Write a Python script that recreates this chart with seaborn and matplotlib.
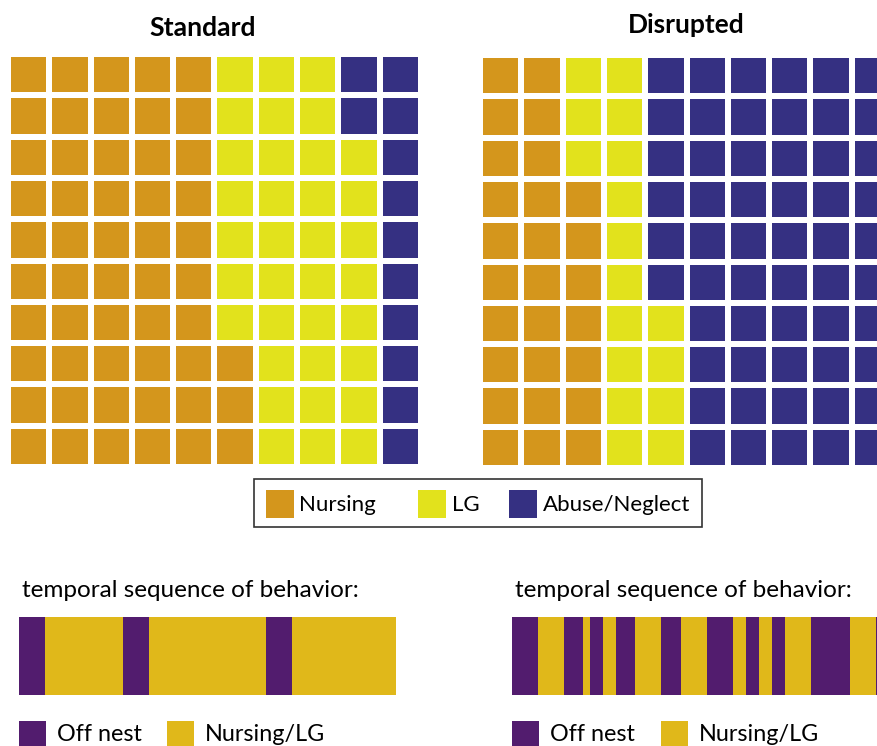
import numpy as np
import matplotlib
matplotlib.use("Agg")
import matplotlib.pyplot as plt
from matplotlib.colors import ListedColormap
from matplotlib.patches import Rectangle
import seaborn as sns

# ---------------- data ----------------
categories = ["Nursing", "LG", "Abuse/Neglect"]
standard_counts = [53, 35, 12]
disrupted_counts = [27, 17, 56]
grid_rows = 10
grid_cols = 10
panel_titles = ["Standard", "Disrupted"]

seq_labels = ["Off nest", "Nursing/LG"]
seq_title = "temporal sequence of behavior:"
standard_seq_states = [0, 1, 0, 1, 0, 1]
standard_seq_durations = [4, 12, 4, 18, 4, 16]
disrupted_seq_states = [0, 1, 0, 1, 0, 1, 0, 1, 0, 1, 0, 1, 0, 1, 0, 1, 0, 1, 0]
disrupted_seq_durations = [4, 4, 3, 1, 2, 2, 3, 4, 3, 4, 4, 2, 2, 2, 2, 4, 6, 4, 2]

# ---------------- style ----------------
cat_colors = ["#D4961C", "#E2E21C", "#353082"]
seq_colors = ["#521C6E", "#E0B81A"]

sns.set_theme(style="white")
plt.rcParams["font.family"] = ["Lato", "DejaVu Sans"]

W, H = 878, 746
fig = plt.figure(figsize=(W / 100, H / 100), dpi=100)


def rect(x0, y0, x1, y1):
    return [x0 / W, 1 - y1 / H, (x1 - x0) / W, (y1 - y0) / H]


def fx(x):
    return x / W


def fy(y):
    return 1 - y / H


def waffle_matrix(counts):
    seq = np.repeat(np.arange(len(counts)), counts)
    cols = seq.reshape(grid_cols, grid_rows)  # column-major, bottom-up
    return cols.T[::-1, :]


# ---------------- waffles ----------------
waffle_boxes = [(8, 54, 421, 467), (480, 55, 893, 468)]
for counts, box in zip([standard_counts, disrupted_counts], waffle_boxes):
    ax = fig.add_axes(rect(*box))
    sns.heatmap(waffle_matrix(counts), cmap=ListedColormap(cat_colors),
                vmin=-0.5, vmax=len(categories) - 0.5, linewidths=2.9,
                linecolor="white", cbar=False, xticklabels=False,
                yticklabels=False, ax=ax)
    ax.set_axis_off()

fig.text(fx(203), fy(36), panel_titles[0], ha="center", va="baseline",
         fontsize=19.2, fontweight="bold", color="black")
fig.text(fx(686), fy(33), panel_titles[1], ha="center", va="baseline",
         fontsize=19.0, fontweight="bold", color="black")

# waffle legend (framed)
fig.add_artist(Rectangle((fx(254), fy(527)), (702 - 254) / W, (527 - 479) / H,
                         transform=fig.transFigure, fill=False,
                         edgecolor="#333333", linewidth=1.2))
legend_slots = [(266, 299), (418, 452), (509, 543)]
for (px, tx), lab, col in zip(legend_slots, categories, cat_colors):
    fig.add_artist(Rectangle((fx(px), fy(518)), 28 / W, 28 / H,
                             transform=fig.transFigure, facecolor=col,
                             edgecolor="none"))
    fig.text(fx(tx), fy(511), lab, ha="left", va="baseline", fontsize=16,
             color="black")

# ---------------- temporal sequences ----------------
seq_boxes = [(19, 617, 396, 695), (512, 617, 889, 695)]
seq_data = [(standard_seq_states, standard_seq_durations),
            (disrupted_seq_states, disrupted_seq_durations)]
title_x = [22, 515]
legend_x = [(19, 57, 167, 205), (512, 550, 661, 699)]
for (states, durs), box, tx, lx in zip(seq_data, seq_boxes, title_x, legend_x):
    ax = fig.add_axes(rect(*box))
    row = np.repeat(states, durs)[None, :]
    sns.heatmap(row, cmap=ListedColormap(seq_colors), vmin=-0.5, vmax=1.5,
                cbar=False, xticklabels=False, yticklabels=False, ax=ax)
    ax.set_axis_off()
    fig.text(fx(tx), fy(597), seq_title, ha="left", va="baseline",
             fontsize=17.5, color="black")
    for (px, txx), lab, col in zip([(lx[0], lx[1]), (lx[2], lx[3])],
                                   seq_labels, seq_colors):
        fig.add_artist(Rectangle((fx(px), fy(748)), 27 / W, 27 / H,
                                 transform=fig.transFigure, facecolor=col,
                                 edgecolor="none"))
        fig.text(fx(txx), fy(741), lab, ha="left", va="baseline",
                 fontsize=16.8, color="black")

fig.savefig("out.png", dpi=100, facecolor="white")
